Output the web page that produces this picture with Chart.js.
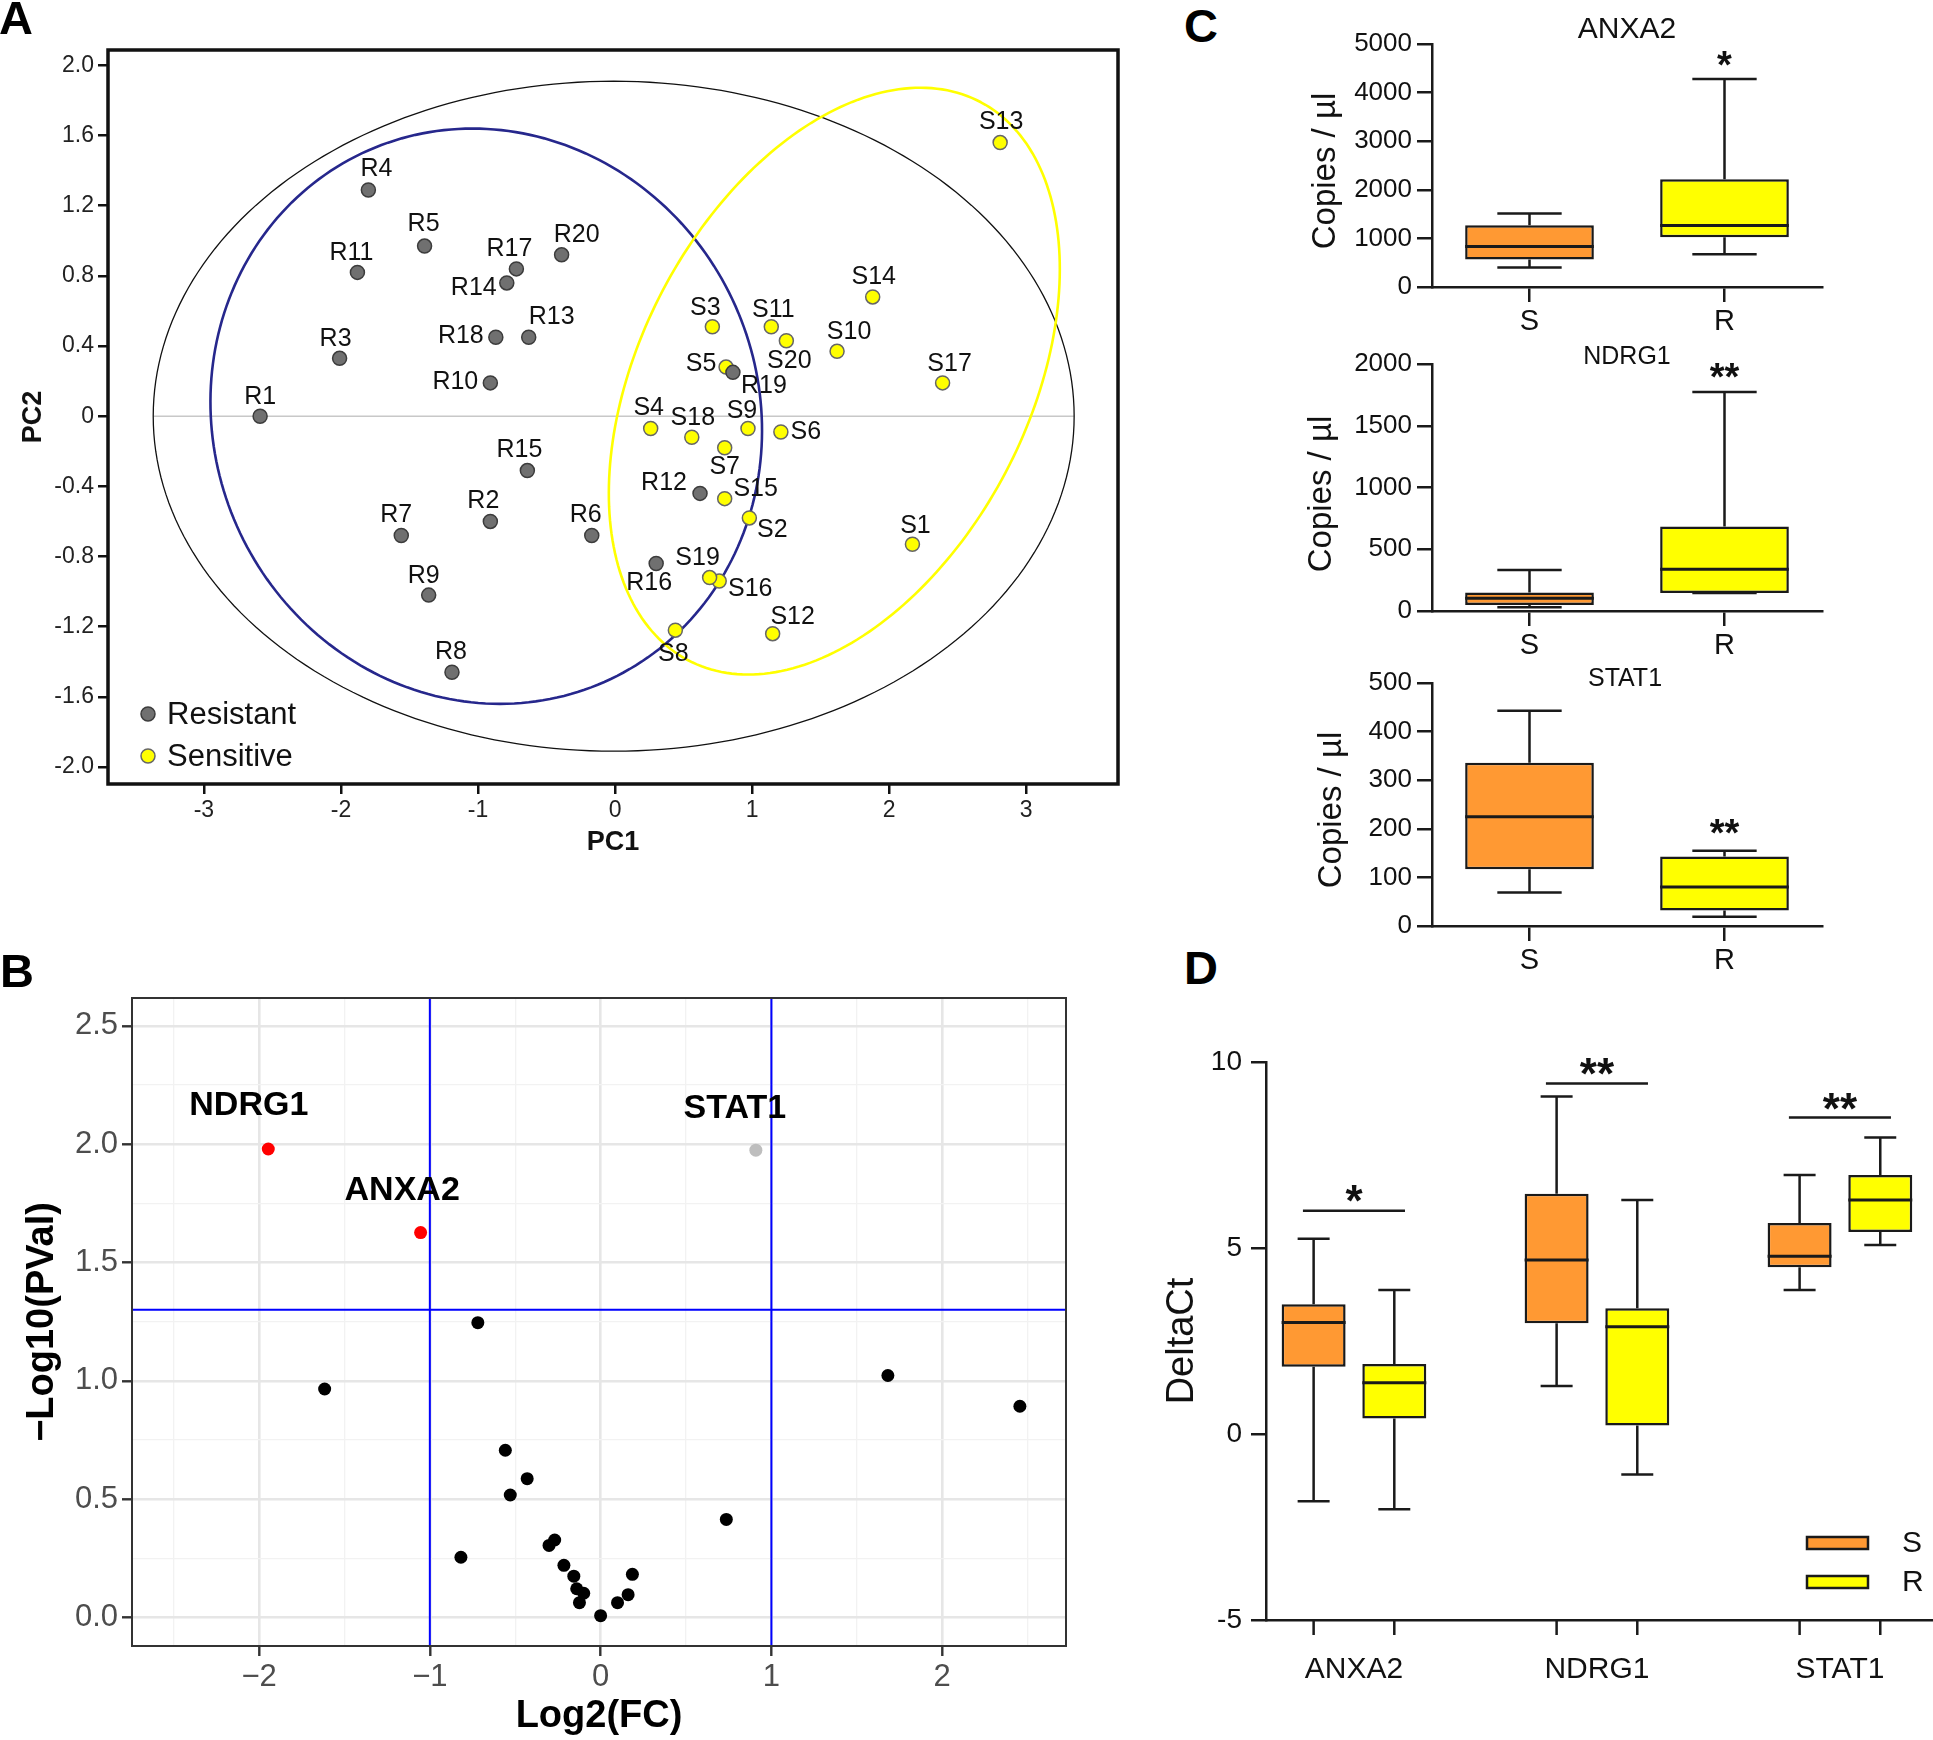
<!DOCTYPE html>
<html lang="en">
<head>
<meta charset="UTF-8">
<meta name="viewport" content="width=device-width, initial-scale=1.0">
<title>PCA, volcano plot and box plots</title>
<script src="https://cdn.jsdelivr.net/npm/chart.js@4.4.1/dist/chart.umd.min.js"></script>
<style>
  body { margin: 0; background: #fff; }
  #page { position: relative; width: 1933px; height: 1740px; overflow: hidden; font-family: "Liberation Sans", Arial, sans-serif; }
  #page canvas { position: absolute; }
  .tag { position: absolute; z-index: 2; font-size: 47px; font-weight: bold; line-height: 1; color: #000; }
</style>
</head>
<body>
<div id="page">
  <canvas id="pca" width="1130" height="880" style="left:0;top:0"></canvas>
  <canvas id="volcano" width="1090" height="780" style="left:0;top:960px"></canvas>
  <canvas id="copies0" width="633" height="330" style="left:1300px;top:0"></canvas>
  <canvas id="copies1" width="633" height="330" style="left:1300px;top:330px"></canvas>
  <canvas id="copies2" width="633" height="330" style="left:1300px;top:650px"></canvas>
  <canvas id="deltact" width="793" height="740" style="left:1140px;top:1000px"></canvas>
  <div class="tag" style="left:-1px;top:-6px">A</div>
  <div class="tag" style="left:0;top:947px">B</div>
  <div class="tag" style="left:1184px;top:2px">C</div>
  <div class="tag" style="left:1184px;top:944px">D</div>
</div>
<script>
const FONT = "'Liberation Sans', Arial, sans-serif";

// ---- A: PCA scores ----
const resistantNames = ['R1','R2','R3','R4','R5','R6','R7','R8','R9','R10','R11','R12','R13','R14','R15','R16','R17','R18','R19','R20'];
const resistantPC1 = [-2.59,-0.91,-2.01,-1.80,-1.39,-0.17,-1.56,-1.19,-1.36,-0.91,-1.88,0.62,-0.63,-0.79,-0.64,0.30,-0.72,-0.87,0.86,-0.39];
const resistantPC2 = [0.00,-0.60,0.33,1.29,0.97,-0.68,-0.68,-1.46,-1.02,0.19,0.82,-0.44,0.45,0.76,-0.31,-0.84,0.84,0.45,0.25,0.92];
const sensitiveNames = ['S1','S2','S3','S4','S5','S6','S7','S8','S9','S10','S11','S12','S13','S14','S15','S16','S17','S18','S19','S20'];
const sensitivePC1 = [2.17,0.98,0.71,0.26,0.81,1.21,0.80,0.44,0.97,1.62,1.14,1.15,2.81,1.88,0.80,0.76,2.39,0.56,0.69,1.25];
const sensitivePC2 = [-0.73,-0.58,0.51,-0.07,0.28,-0.09,-0.18,-1.22,-0.07,0.37,0.51,-1.24,1.56,0.68,-0.47,-0.94,0.19,-0.12,-0.92,0.43];
// ellipses: centre and two semi-axis vectors (PC units)
const ellipseCenter = [[-0.01,0.0],[-0.94,0.0],[1.60,0.20]];
const ellipseAxisU = [[0,1.91],[-0.10,1.64],[1.07,1.59]];
const ellipseAxisV = [[3.36,0],[2.01,0],[1.25,-0.52]];
const ellipseColor = ['#111','#26278c','#ffff00'];
const ellipseWidth = [1.3,2.6,2.6];
// label nudges in pixels
const labelNudge = {
  R1:[0,-19], R2:[-7,-20], R3:[-4,-19], R4:[8,-21], R5:[-1,-22], R6:[-6,-20], R7:[-5,-20], R8:[-1,-20], R9:[-5,-19], R10:[-35,-1],
  R11:[-6,-19], R12:[-36,-10], R13:[23,-20], R14:[-33,5], R15:[-8,-20], R16:[-7,20], R17:[-7,-20], R18:[-35,-1], R19:[31,14], R20:[15,-20],
  S1:[3,-18], S2:[23,12], S3:[-7,-19], S4:[-2,-20], S5:[-25,-3], S6:[25,0], S7:[0,19], S8:[-2,24], S9:[-6,-17], S10:[12,-19],
  S11:[2,-17], S12:[20,-17], S13:[1,-20], S14:[1,-20], S15:[31,-10], S16:[31,8], S17:[7,-19], S18:[1,-19], S19:[-12,-19], S20:[3,20]
};

// ---- B: volcano ----
const volcanoGenes = ['NDRG1','ANXA2','STAT1'];
const volcanoLog2FC = [-1.946,-1.054,0.909];
const volcanoLogP = [1.980,1.627,1.975];
const volcanoColors = ['#ff0000','#ff0000','#bebebe'];
const volcanoLabelAt = [[-2.06,2.177],[-1.162,1.816],[0.786,2.164]];
const otherLog2FC = [-0.719,-1.616,1.682,2.455,-0.558,-0.430,-0.529,0.736,-0.818,-0.302,-0.269,-0.215,-0.157,-0.140,-0.099,-0.124,0.000,0.099,0.161,0.186];
const otherLogP = [1.246,0.966,1.023,0.893,0.707,0.587,0.518,0.415,0.255,0.305,0.328,0.221,0.175,0.122,0.103,0.063,0.008,0.063,0.097,0.183];
const fcCutoffs = [-1, 1];
const pCutoff = 1.301;

// ---- C: copies / ul ----
const groups = ['S','R'];
const groupColors = ['#ff9933','#ffff00'];
const copiesGenes = ['ANXA2','NDRG1','STAT1'];
const copiesMin = [[399,674],[30,146],[69,19]];
const copiesQ1 = [[564,1025],[49,146],[117,32]];
const copiesMed = [[832,1265],[103,338],[225,80]];
const copiesQ3 = [[1272,2215],[149,684],[336,143]];
const copiesMax = [[1513,4278],[332,1773],[443,155]];
const copiesAxisMax = [5000,2000,500];
const copiesStep = [1000,500,100];
const copiesStars = ['*','**','**'];
const copiesStarY = [4733,1960,208];

// ---- D: DeltaCt ----
const dctGenes = ['ANXA2','NDRG1','STAT1'];
const dctSMin = [-1.81,1.29,3.87];
const dctSQ1 = [1.81,2.98,4.48];
const dctSMed = [3.00,4.68,4.78];
const dctSQ3 = [3.49,6.46,5.67];
const dctSMax = [5.25,9.07,6.96];
const dctRMin = [-2.02,-1.09,5.08];
const dctRQ1 = [0.42,0.23,5.43];
const dctRMed = [1.38,2.88,6.29];
const dctRQ3 = [1.88,3.38,6.96];
const dctRMax = [3.87,6.29,7.97];
const dctSigY = [6.0,9.42,8.51];
const dctStars = ['*','**','**'];
const dctStarY = [6.51,9.95,9.0];

Chart.defaults.font.family = FONT;
Chart.defaults.color = '#111';
Chart.defaults.animation = false;
Chart.defaults.plugins.legend.display = false;
Chart.defaults.plugins.tooltip.enabled = false;

const minus = v => (v < 0 ? '\u2212' + Math.abs(v) : String(v));

// free text (titles, stars); items kept in a closure
function makeNotes(items) {
  return {
    id: 'notes',
    afterDraw(chart) {
      const ctx = chart.ctx;
      items.forEach(it => {
        let x = it.px, y = it.py;
        if (it.xv !== undefined) x = chart.scales.x.getPixelForValue(it.xv);
        if (it.yv !== undefined) y = chart.scales.y.getPixelForValue(it.yv);
        ctx.save();
        ctx.font = (it.bold ? 'bold ' : '') + it.size + 'px ' + FONT;
        ctx.fillStyle = '#111';
        ctx.textAlign = 'center';
        ctx.textBaseline = 'alphabetic';
        ctx.translate(x, y);
        if (it.rotate) ctx.rotate(it.rotate);
        ctx.fillText(it.text, 0, it.size * (it.shift !== undefined ? it.shift : 0.36));
        ctx.restore();
      });
    }
  };
}

// whiskers + median on top of the floating bars
const boxWhiskers = {
  id: 'boxWhiskers',
  afterDatasetsDraw(chart) {
    const ctx = chart.ctx, y = chart.scales.y;
    chart.data.datasets.forEach((ds, di) => {
      if (!ds.box) return;
      const b = ds.box;
      chart.getDatasetMeta(di).data.forEach((bar, i) => {
        const x = bar.x, w = bar.width;
        const pMin = y.getPixelForValue(b.min[i]), pMax = y.getPixelForValue(b.max[i]);
        const pQ1 = y.getPixelForValue(b.q1[i]), pQ3 = y.getPixelForValue(b.q3[i]);
        const pMed = y.getPixelForValue(b.med[i]);
        ctx.save();
        ctx.strokeStyle = '#1a1a1a';
        ctx.lineWidth = 2.5;
        ctx.beginPath();
        ctx.moveTo(x, pQ3); ctx.lineTo(x, pMax);
        ctx.moveTo(x - w / 4, pMax); ctx.lineTo(x + w / 4, pMax);
        ctx.moveTo(x, pQ1); ctx.lineTo(x, pMin);
        ctx.moveTo(x - w / 4, pMin); ctx.lineTo(x + w / 4, pMin);
        ctx.stroke();
        ctx.lineWidth = 3;
        ctx.beginPath();
        ctx.moveTo(x - w / 2, pMed); ctx.lineTo(x + w / 2, pMed);
        ctx.stroke();
        ctx.restore();
      });
    });
  }
};

// ================= A =================
const pcaExtras = {
  id: 'pcaExtras',
  beforeDatasetsDraw(chart) {
    const {ctx, scales: {x, y}} = chart;
    ctx.save();
    const c0 = ellipseCenter[0], v0 = ellipseAxisV[0];
    ctx.strokeStyle = '#c8c8c8';
    ctx.lineWidth = 1.5;
    ctx.beginPath();
    ctx.moveTo(x.getPixelForValue(c0[0] - v0[0]), y.getPixelForValue(0));
    ctx.lineTo(x.getPixelForValue(c0[0] + v0[0]), y.getPixelForValue(0));
    ctx.stroke();
    ellipseCenter.forEach((c, i) => {
      const u = ellipseAxisU[i], v = ellipseAxisV[i];
      ctx.beginPath();
      for (let k = 0; k <= 240; k++) {
        const t = k / 240 * 2 * Math.PI;
        const px = x.getPixelForValue(c[0] + u[0] * Math.cos(t) + v[0] * Math.sin(t));
        const py = y.getPixelForValue(c[1] + u[1] * Math.cos(t) + v[1] * Math.sin(t));
        if (k) ctx.lineTo(px, py); else ctx.moveTo(px, py);
      }
      ctx.closePath();
      ctx.strokeStyle = ellipseColor[i];
      ctx.lineWidth = ellipseWidth[i];
      ctx.stroke();
    });
    ctx.restore();
  },
  afterDatasetsDraw(chart) {
    const ctx = chart.ctx;
    ctx.save();
    ctx.font = '25px ' + FONT;
    ctx.fillStyle = '#111';
    ctx.textAlign = 'center';
    ctx.textBaseline = 'middle';
    [resistantNames, sensitiveNames].forEach((names, di) => {
      chart.getDatasetMeta(di).data.forEach((pt, i) => {
        const n = labelNudge[names[i]];
        ctx.fillText(names[i], pt.x + n[0], pt.y + n[1]);
      });
    });
    ctx.restore();
  },
  afterDraw(chart) {
    const {ctx, chartArea: a} = chart;
    ctx.save();
    ctx.strokeStyle = '#111';
    ctx.lineWidth = 3.5;
    ctx.strokeRect(a.left, a.top, a.right - a.left, a.bottom - a.top);
    // legend
    const items = [['Resistant', '#707070', '#3c3c3c', 714], ['Sensitive', '#ffff00', '#666', 756]];
    ctx.font = '31px ' + FONT;
    ctx.textAlign = 'left';
    ctx.textBaseline = 'middle';
    items.forEach(([txt, fill, line, yy]) => {
      ctx.beginPath();
      ctx.arc(148, yy, 7, 0, 2 * Math.PI);
      ctx.fillStyle = fill; ctx.fill();
      ctx.lineWidth = 1.5; ctx.strokeStyle = line; ctx.stroke();
      ctx.fillStyle = '#111';
      ctx.fillText(txt, 167, yy + 1);
    });
    ctx.restore();
  }
};

new Chart(document.getElementById('pca'), {
  type: 'scatter',
  data: {
    datasets: [
      { label: 'Resistant', data: resistantPC1.map((v, i) => ({x: v, y: resistantPC2[i]})),
        pointRadius: 7, pointBackgroundColor: '#707070', pointBorderColor: '#3c3c3c', pointBorderWidth: 1.5 },
      { label: 'Sensitive', data: sensitivePC1.map((v, i) => ({x: v, y: sensitivePC2[i]})),
        pointRadius: 7, pointBackgroundColor: '#ffff00', pointBorderColor: '#666', pointBorderWidth: 1.5 }
    ]
  },
  options: {
    responsive: false,
    layout: { padding: {left: 0, top: 50, right: 12, bottom: 0}, autoPadding: false },
    scales: {
      x: {
        type: 'linear', min: -3.70, max: 3.67,
        afterFit: s => { s.height = 96; },
        ticks: { stepSize: 1, includeBounds: false, maxTicksLimit: 50, autoSkip: false, maxRotation: 0,
                 font: {size: 23}, color: '#222', padding: 3, callback: v => String(v) },
        grid: { display: true, drawOnChartArea: false, tickLength: 10, color: '#111', lineWidth: 2.5 },
        border: { display: false },
        title: { display: true, text: 'PC1', font: {size: 27, weight: 'bold'}, color: '#111', padding: {top: 0, bottom: 21} }
      },
      y: {
        type: 'linear', min: -2.097, max: 2.088,
        afterFit: s => { s.width = 108; },
        ticks: { stepSize: 0.4, includeBounds: false, maxTicksLimit: 50, autoSkip: false,
                 font: {size: 23}, color: '#222', padding: 4,
                 callback: v => (Math.abs(v) < 1e-9 ? '0' : v.toFixed(1)) },
        grid: { display: true, drawOnChartArea: false, tickLength: 10, color: '#111', lineWidth: 2.5 },
        border: { display: false },
        title: { display: true, text: 'PC2', font: {size: 27, weight: 'bold'}, color: '#111', padding: {top: 17, bottom: 0} }
      }
    }
  },
  plugins: [pcaExtras]
});

// ================= B =================
const majorX = v => Math.abs(v - Math.round(v)) < 1e-9;
const majorY = v => Math.abs(v * 2 - Math.round(v * 2)) < 1e-9;

const volcanoExtras = {
  id: 'volcanoExtras',
  beforeDatasetsDraw(chart) {
    const {ctx, chartArea: a, scales: {x, y}} = chart;
    ctx.save();
    ctx.strokeStyle = '#0000ff';
    ctx.lineWidth = 2;
    ctx.beginPath();
    fcCutoffs.forEach(fc => {
      const px = x.getPixelForValue(fc);
      ctx.moveTo(px, a.top); ctx.lineTo(px, a.bottom);
    });
    const py = y.getPixelForValue(pCutoff);
    ctx.moveTo(a.left, py); ctx.lineTo(a.right, py);
    ctx.stroke();
    ctx.restore();
  },
  afterDatasetsDraw(chart) {
    const {ctx, scales: {x, y}} = chart;
    ctx.save();
    ctx.font = 'bold 34px ' + FONT;
    ctx.fillStyle = '#000';
    ctx.textAlign = 'center';
    ctx.textBaseline = 'alphabetic';
    volcanoGenes.forEach((g, i) => {
      ctx.fillText(g, x.getPixelForValue(volcanoLabelAt[i][0]), y.getPixelForValue(volcanoLabelAt[i][1]) + 34 * 0.36);
    });
    ctx.restore();
  },
  afterDraw(chart) {
    const {ctx, chartArea: a} = chart;
    ctx.save();
    ctx.strokeStyle = '#333';
    ctx.lineWidth = 2;
    ctx.strokeRect(a.left, a.top, a.right - a.left, a.bottom - a.top);
    ctx.restore();
  }
};

new Chart(document.getElementById('volcano'), {
  type: 'scatter',
  data: {
    datasets: [
      { data: otherLog2FC.map((v, i) => ({x: v, y: otherLogP[i]})), pointRadius: 6.5, pointBackgroundColor: '#000', pointBorderWidth: 0 },
      { data: volcanoLog2FC.map((v, i) => ({x: v, y: volcanoLogP[i]})), pointRadius: 6.5, pointBackgroundColor: volcanoColors, pointBorderWidth: 0 }
    ]
  },
  options: {
    responsive: false,
    layout: { padding: {left: 0, top: 38, right: 24, bottom: 0}, autoPadding: false },
    scales: {
      x: {
        type: 'linear', min: -2.744, max: 2.725,
        afterFit: s => { s.height = 94; },
        ticks: { stepSize: 0.5, includeBounds: false, maxTicksLimit: 50, autoSkip: false, maxRotation: 0,
                 font: {size: 31}, color: '#4d4d4d', padding: 3,
                 callback: v => (majorX(v) ? minus(Math.round(v)) : '') },
        grid: { color: c => (majorX(c.tick.value) ? '#e6e6e6' : '#f2f2f2'),
                lineWidth: c => (majorX(c.tick.value) ? 2.6 : 1.3),
                tickColor: c => (majorX(c.tick.value) ? '#333' : 'rgba(0,0,0,0)'),
                tickWidth: 2.4, tickLength: 10 },
        border: { display: false },
        title: { display: true, text: 'Log2(FC)', font: {size: 38, weight: 'bold'}, color: '#000', padding: {top: 0, bottom: 1} }
      },
      y: {
        type: 'linear', min: -0.12, max: 2.618,
        afterFit: s => { s.width = 132; },
        ticks: { stepSize: 0.25, includeBounds: false, maxTicksLimit: 50, autoSkip: false,
                 font: {size: 31}, color: '#4d4d4d', padding: 4,
                 callback: v => (majorY(v) ? v.toFixed(1) : '') },
        grid: { color: c => (majorY(c.tick.value) ? '#e6e6e6' : '#f2f2f2'),
                lineWidth: c => (majorY(c.tick.value) ? 2.6 : 1.3),
                tickColor: c => (majorY(c.tick.value) ? '#333' : 'rgba(0,0,0,0)'),
                tickWidth: 2.4, tickLength: 10 },
        border: { display: false },
        title: { display: true, text: '\u2212Log10(PVal)', font: {size: 38, weight: 'bold'}, color: '#000', padding: {top: 20, bottom: 0} }
      }
    }
  },
  plugins: [volcanoExtras]
});

// ================= C =================
const copiesLayout = [
  {top: 44, bottom: 287, title: [327, 27, 30], yTitle: [26, 171]},
  {top: 34, bottom: 281, title: [327, 25, 25], yTitle: [22, 164]},
  {top: 33, bottom: 276, title: [325, 27, 25], yTitle: [32, 160]}
];

copiesGenes.forEach((gene, g) => {
  const L = copiesLayout[g];
  const notes = makeNotes([
    { text: gene, px: L.title[0], py: L.title[1], size: L.title[2] },
    { text: 'Copies / \u00b5l', px: L.yTitle[0], py: L.yTitle[1], size: 33, rotate: -Math.PI / 2, shift: 0.28 },
    { text: copiesStars[g], xv: 1, yv: copiesStarY[g], size: 38, bold: true, shift: 0.56 }
  ]);
  new Chart(document.getElementById('copies' + g), {
    type: 'bar',
    data: {
      labels: groups,
      datasets: [{
        data: groups.map((_, k) => [copiesQ1[g][k], copiesQ3[g][k]]),
        backgroundColor: groupColors, borderColor: '#1a1a1a', borderWidth: 2.5, borderSkipped: false,
        categoryPercentage: 1, barPercentage: 0.66,
        box: { min: copiesMin[g], q1: copiesQ1[g], med: copiesMed[g], q3: copiesQ3[g], max: copiesMax[g] }
      }]
    },
    options: {
      responsive: false,
      layout: { padding: {left: 0, top: L.top, right: 111, bottom: 0}, autoPadding: false },
      scales: {
        x: {
          afterFit: s => { s.height = 330 - L.bottom; },
          ticks: { font: {size: 29}, color: '#111', padding: 3 },
          grid: { display: true, drawOnChartArea: false, offset: false, tickLength: 15, color: '#1a1a1a', lineWidth: 2.5 },
          border: { display: true, color: '#1a1a1a', width: 2.5 }
        },
        y: {
          min: 0, max: copiesAxisMax[g],
          afterFit: s => { s.width = 132; },
          ticks: { stepSize: copiesStep[g], font: {size: 26}, color: '#111', padding: 5, callback: v => String(v) },
          grid: { display: true, drawOnChartArea: false, tickLength: 15, color: '#1a1a1a', lineWidth: 2.5 },
          border: { display: true, color: '#1a1a1a', width: 2.5 }
        }
      }
    },
    plugins: [boxWhiskers, notes]
  });
});

// ================= D =================
const dctExtras = {
  id: 'dctExtras',
  afterDraw(chart) {
    const {ctx, chartArea: a, scales: {x, y}} = chart;
    ctx.save();
    ctx.strokeStyle = '#1a1a1a';
    ctx.lineWidth = 2.5;
    ctx.beginPath();
    chart.data.datasets.forEach((ds, di) => {
      chart.getDatasetMeta(di).data.forEach(bar => {
        ctx.moveTo(bar.x, a.bottom); ctx.lineTo(bar.x, a.bottom + 15);
      });
    });
    dctGenes.forEach((g, i) => {
      const yy = y.getPixelForValue(dctSigY[i]);
      ctx.moveTo(x.getPixelForValue(i - 0.21), yy);
      ctx.lineTo(x.getPixelForValue(i + 0.21), yy);
    });
    ctx.stroke();
    // legend
    ctx.font = '30px ' + FONT;
    ctx.textAlign = 'left';
    ctx.textBaseline = 'middle';
    groups.forEach((grp, k) => {
      const top = 537 + k * 39;
      ctx.fillStyle = groupColors[k];
      ctx.fillRect(667, top, 61, 12);
      ctx.strokeRect(667, top, 61, 12);
      ctx.fillStyle = '#111';
      ctx.fillText(grp, 762, top + 7);
    });
    ctx.restore();
  }
};

new Chart(document.getElementById('deltact'), {
  type: 'bar',
  data: {
    datasets: [
      { label: 'S', data: dctGenes.map((_, i) => ({x: i, y: [dctSQ1[i], dctSQ3[i]]})),
        backgroundColor: groupColors[0], borderColor: '#1a1a1a', borderWidth: 2.5, borderSkipped: false,
        box: { min: dctSMin, q1: dctSQ1, med: dctSMed, q3: dctSQ3, max: dctSMax } },
      { label: 'R', data: dctGenes.map((_, i) => ({x: i, y: [dctRQ1[i], dctRQ3[i]]})),
        backgroundColor: groupColors[1], borderColor: '#1a1a1a', borderWidth: 2.5, borderSkipped: false,
        box: { min: dctRMin, q1: dctRQ1, med: dctRMed, q3: dctRQ3, max: dctRMax } }
    ]
  },
  options: {
    responsive: false,
    layout: { padding: {left: 0, top: 62, right: 0, bottom: 0}, autoPadding: false },
    datasets: { bar: { categoryPercentage: 0.664, barPercentage: 0.793 } },
    scales: {
      x: {
        type: 'linear', min: -0.362, max: 2.383, offset: false,
        afterFit: s => { s.height = 120; },
        ticks: { stepSize: 1, includeBounds: false, autoSkip: false, maxRotation: 0,
                 font: {size: 30}, color: '#111', padding: 17,
                 callback: v => (dctGenes[v] !== undefined ? dctGenes[v] : '') },
        grid: { display: false, tickLength: 15 },
        border: { display: true, color: '#1a1a1a', width: 2.5 }
      },
      y: {
        min: -5, max: 10,
        afterFit: s => { s.width = 126; },
        ticks: { stepSize: 5, font: {size: 28}, color: '#111', padding: 9 },
        grid: { display: true, drawOnChartArea: false, tickLength: 15, color: '#1a1a1a', lineWidth: 2.5 },
        border: { display: true, color: '#1a1a1a', width: 2.5 },
        title: { display: true, text: 'DeltaCt', font: {size: 38}, color: '#111', padding: {top: 20, bottom: 0} }
      }
    }
  },
  plugins: [boxWhiskers, dctExtras,
            makeNotes(dctGenes.map((g, i) => ({ text: dctStars[i], xv: i, yv: dctStarY[i], size: 44, bold: true, shift: 0.56 })))]
});
</script>
</body>
</html>
